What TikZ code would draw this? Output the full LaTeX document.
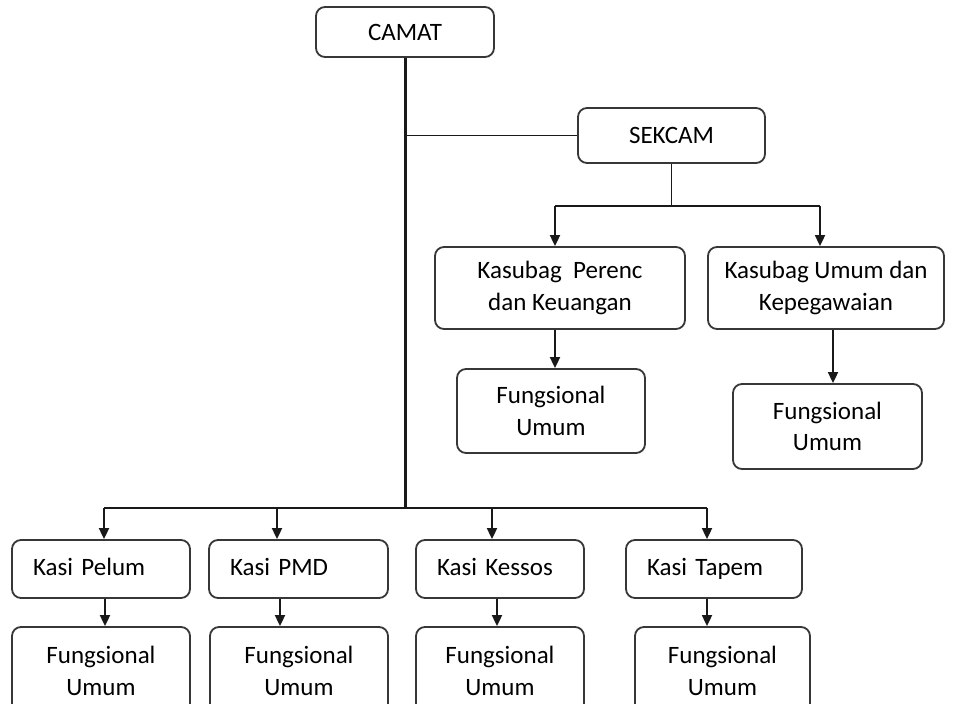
\documentclass[tikz,border=0pt]{standalone}
\usepackage{fontspec}
\setmainfont{Carlito}
\usetikzlibrary{arrows.meta,calc}
\definecolor{boxgray}{RGB}{55,55,55}
\definecolor{linegray}{RGB}{25,25,25}
\begin{document}
\begin{tikzpicture}[x=1pt,y=-1pt,
  box/.style={draw=boxgray,line width=1.8pt,rounded corners=9pt,inner sep=0pt,
    align=center,font=\fontsize{25}{31.5}\selectfont,text=black},
  kasi/.style={box,align=left,inner xsep=21pt,minimum height=58pt,
    text height=18pt,text depth=6pt},
  conn/.style={draw=linegray,line width=1.8pt},
  arr/.style={conn,-{Triangle[length=11pt,width=10pt]}}]
\useasboundingbox (0,0) rectangle (953,704);
\fill[white] (0,0) rectangle (953,704);
\clip (0,0) rectangle (953,704);

% nodes
\node[box,minimum width=178pt,minimum height=50pt] (camat) at (405,32) {CAMAT};
\node[box,minimum width=187pt,minimum height=55pt] (sekcam) at (671.5,135.5) {SEKCAM};
\node[box,minimum width=250pt,minimum height=82pt] (perenc) at (560,288) {Kasubag\ \ Perenc\\dan Keuangan};
\node[box,minimum width=236pt,minimum height=82pt] (kumum) at (826,288) {Kasubag Umum dan\\Kepegawaian};
\node[box,minimum width=188pt,minimum height=84pt] (fung1) at (551,411) {Fungsional\\Umum};
\node[box,minimum width=189pt,minimum height=85pt] (fung2) at (827.5,426.5) {Fungsional\\Umum};

\node[kasi,text width=136pt] (pelum) at (101,569) {Kasi Pelum};
\node[kasi,text width=137pt] (pmd) at (298.5,569) {Kasi PMD};
\node[kasi,text width=126pt] (kessos) at (500,569) {Kasi Kessos};
\node[kasi,text width=134pt] (tapem) at (714,569) {Kasi Tapem};

\node[box,minimum width=178pt,minimum height=88pt] (fpelum) at (101,671) {Fungsional\\Umum};
\node[box,minimum width=178pt,minimum height=88pt] (fpmd) at (299,671) {Fungsional\\Umum};
\node[box,minimum width=168pt,minimum height=88pt] (fkessos) at (500,671) {Fungsional\\Umum};
\node[box,minimum width=175pt,minimum height=88pt] (ftapem) at (722.5,671) {Fungsional\\Umum};

% helper coordinates
\coordinate (bar) at (0,508);
\coordinate (b1) at (104,508);
\coordinate (b2) at (277,508);
\coordinate (b3) at (492,508);
\coordinate (b4) at (707,508);
\coordinate (s1) at (555,206);
\coordinate (s2) at (820,206);
\coordinate (xk) at (833,0);
\coordinate (k1) at (105,0);
\coordinate (k2) at (280,0);
\coordinate (k3) at (497,0);
\coordinate (k4) at (707,0);

% connectors
\draw[conn,line width=3pt] (camat.south) -- (camat.south |- bar);
\draw[conn] (camat.south |- sekcam.west) -- (sekcam.west);
\draw[conn] (sekcam.south) -- (sekcam.south |- s1);
\draw[conn] (s1) -- (s2);
\draw[arr] (s1) -- (s1 |- perenc.north);
\draw[arr] (s2) -- (s2 |- kumum.north);
\draw[arr] (perenc.south -| s1) -- (fung1.north -| s1);
\draw[arr] (kumum.south -| xk) -- (fung2.north -| xk);

\draw[conn] (b1) -- (b4);
\draw[arr] (b1) -- (b1 |- pelum.north);
\draw[arr] (b2) -- (b2 |- pmd.north);
\draw[arr] (b3) -- (b3 |- kessos.north);
\draw[arr] (b4) -- (b4 |- tapem.north);

\draw[arr] (pelum.south -| k1) -- (fpelum.north -| k1);
\draw[arr] (pmd.south -| k2) -- (fpmd.north -| k2);
\draw[arr] (kessos.south -| k3) -- (fkessos.north -| k3);
\draw[arr] (tapem.south -| k4) -- (ftapem.north -| k4);
\end{tikzpicture}
\end{document}
